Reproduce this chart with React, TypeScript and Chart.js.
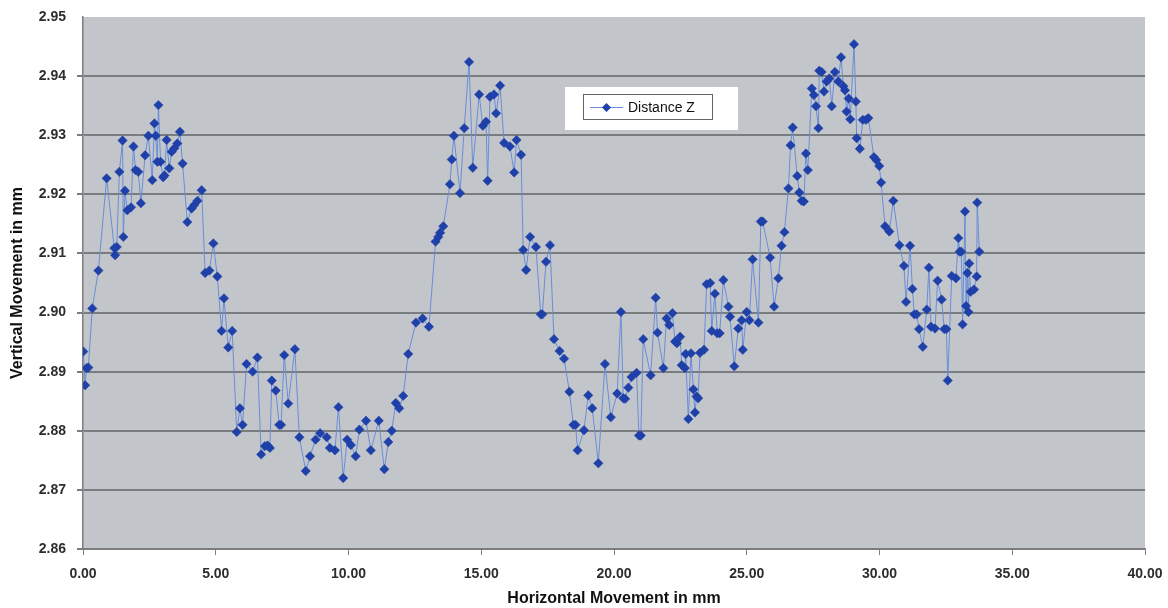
import React, { useEffect, useRef } from "react";
import { Chart, registerables } from "chart.js";

Chart.register(...registerables);

const seriesName = "Distance Z";
const xTitle = "Horizontal Movement in mm";
const yTitle = "Vertical Movement in mm";

const xValues = [
  0.01, 0.08, 0.13, 0.2, 0.35, 0.58, 0.89, 1.18, 1.21, 1.27, 1.37, 1.49, 1.52, 1.58, 1.67, 1.81, 1.9, 1.98,
  2.08, 2.18, 2.34, 2.46, 2.61, 2.69, 2.74, 2.8, 2.84, 2.92, 3.02, 3.07, 3.15, 3.25, 3.34, 3.44, 3.55, 3.65,
  3.75, 3.93, 4.09, 4.19, 4.31, 4.47, 4.6, 4.76, 4.91, 5.06, 5.22, 5.31, 5.47, 5.62, 5.79, 5.91, 6.01, 6.16,
  6.39, 6.57, 6.71, 6.85, 6.95, 7.04, 7.11, 7.26, 7.39, 7.46, 7.58, 7.73, 7.98, 8.15, 8.39, 8.55, 8.76, 8.93,
  9.18, 9.3, 9.49, 9.62, 9.8, 9.95, 10.09, 10.27, 10.41, 10.66, 10.84, 11.14, 11.35, 11.5, 11.63, 11.78,
  11.91, 12.06, 12.25, 12.54, 12.79, 13.03, 13.28, 13.38, 13.45, 13.57, 13.82, 13.89, 13.97, 14.2, 14.36,
  14.54, 14.68, 14.92, 15.06, 15.18, 15.24, 15.33, 15.48, 15.56, 15.71, 15.86, 16.08, 16.24, 16.33, 16.5,
  16.58, 16.69, 16.84, 17.06, 17.24, 17.3, 17.44, 17.59, 17.74, 17.95, 18.12, 18.32, 18.47, 18.55, 18.63,
  18.87, 19.03, 19.18, 19.41, 19.66, 19.88, 20.12, 20.26, 20.35, 20.42, 20.54, 20.66, 20.85, 20.94, 21.01,
  21.1, 21.38, 21.57, 21.64, 21.86, 21.98, 22.08, 22.2, 22.3, 22.37, 22.49, 22.55, 22.67, 22.7, 22.8, 22.9,
  22.99, 23.05, 23.11, 23.17, 23.24, 23.39, 23.49, 23.62, 23.68, 23.8, 23.89, 23.98, 24.12, 24.31, 24.37,
  24.53, 24.68, 24.81, 24.85, 25.0, 25.1, 25.22, 25.44, 25.53, 25.6, 25.88, 26.03, 26.19, 26.31, 26.42,
  26.57, 26.65, 26.73, 26.9, 26.98, 27.07, 27.15, 27.23, 27.3, 27.45, 27.53, 27.61, 27.7, 27.73, 27.82,
  27.91, 28.01, 28.11, 28.2, 28.32, 28.45, 28.55, 28.64, 28.7, 28.76, 28.84, 28.9, 29.04, 29.11, 29.14,
  29.26, 29.37, 29.49, 29.58, 29.79, 29.88, 29.99, 30.06, 30.21, 30.37, 30.52, 30.75, 30.92, 31.0, 31.15,
  31.24, 31.31, 31.4, 31.49, 31.63, 31.78, 31.86, 31.94, 32.09, 32.19, 32.34, 32.44, 32.52, 32.57, 32.72,
  32.88, 32.97, 33.02, 33.08, 33.13, 33.22, 33.26, 33.31, 33.35, 33.38, 33.43, 33.56, 33.66, 33.68, 33.76,
];

const yValues = [
  2.8934, 2.8877, 2.8906, 2.8907, 2.9007, 2.9071, 2.9227, 2.9109, 2.9097, 2.9111, 2.9238, 2.9291, 2.9128,
  2.9206, 2.9173, 2.9178, 2.9281, 2.9241, 2.9238, 2.9185, 2.9266, 2.9299, 2.9224, 2.932, 2.9299, 2.9255,
  2.9351, 2.9255, 2.9229, 2.9232, 2.9292, 2.9244, 2.9272, 2.9278, 2.9286, 2.9306, 2.9252, 2.9153, 2.9176,
  2.9182, 2.9189, 2.9207, 2.9067, 2.9071, 2.9117, 2.9061, 2.8969, 2.9024, 2.8941, 2.8969, 2.8798, 2.8838,
  2.881, 2.8913, 2.89, 2.8924, 2.876, 2.8774, 2.8775, 2.8771, 2.8885, 2.8868, 2.881, 2.881, 2.8928, 2.8846,
  2.8938, 2.8789, 2.8732, 2.8757, 2.8785, 2.8796, 2.8789, 2.8771, 2.8767, 2.884, 2.872, 2.8785, 2.8776,
  2.8757, 2.8802, 2.8817, 2.8767, 2.8817, 2.8735, 2.8781, 2.88, 2.8847, 2.8838, 2.8859, 2.893, 2.8983,
  2.899, 2.8976, 2.912, 2.9128, 2.9135, 2.9146, 2.9217, 2.9259, 2.9299, 2.9202, 2.9312, 2.9424, 2.9245,
  2.9369, 2.9316, 2.9323, 2.9223, 2.9365, 2.9369, 2.9337, 2.9384, 2.9287, 2.9281, 2.9237, 2.9292, 2.9267,
  2.9106, 2.9072, 2.9128, 2.9111, 2.8997, 2.8997, 2.9086, 2.9114, 2.8955, 2.8935, 2.8922, 2.8866, 2.881,
  2.881, 2.8767, 2.8801, 2.886, 2.8838, 2.8745, 2.8913, 2.8823, 2.8863, 2.9001, 2.8855, 2.8854, 2.8873,
  2.8891, 2.8898, 2.8792, 2.8792, 2.8955, 2.8894, 2.9025, 2.8966, 2.8906, 2.899, 2.8979, 2.8999, 2.8951,
  2.8948, 2.8959, 2.8911, 2.8906, 2.893, 2.882, 2.8931, 2.887, 2.8831, 2.8858, 2.8855, 2.8932, 2.8937,
  2.9048, 2.905, 2.8969, 2.9032, 2.8965, 2.8965, 2.9055, 2.901, 2.8993, 2.8909, 2.8973, 2.8987, 2.8937,
  2.9001, 2.8987, 2.909, 2.8983, 2.9154, 2.9154, 2.9093, 2.901, 2.9058, 2.9113, 2.9136, 2.921, 2.9283,
  2.9313, 2.9231, 2.9203, 2.9189, 2.9188, 2.9269, 2.9241, 2.9379, 2.9368, 2.9349, 2.9312, 2.9409, 2.9407,
  2.9374, 2.9391, 2.9396, 2.9349, 2.9407, 2.9391, 2.9432, 2.9383, 2.9376, 2.934, 2.9362, 2.9327, 2.9454,
  2.9357, 2.9295, 2.9277, 2.9326, 2.9326, 2.9329, 2.9263, 2.9258, 2.9248, 2.922, 2.9146, 2.9137, 2.9189,
  2.9114, 2.9079, 2.9018, 2.9113, 2.904, 2.8997, 2.8997, 2.8972, 2.8942, 2.9005, 2.9076, 2.8976, 2.8973,
  2.9054, 2.9022, 2.8972, 2.8972, 2.8885, 2.9062, 2.9058, 2.9126, 2.9103, 2.9103, 2.898, 2.9171, 2.9011,
  2.9067, 2.9001, 2.9083, 2.9035, 2.9039, 2.9061, 2.9186, 2.9103,
];

const X_MIN = 0;
const X_MAX = 40;
const X_STEP = 5;
const Y_MIN = 2.86;
const Y_MAX = 2.95;
const Y_STEP = 0.01;

const FONT = "'Liberation Sans', Arial, Helvetica, sans-serif";
const PLOT_BG = "rgb(194,198,202)";
const GRID = "rgb(122,125,128)";
const AXIS = "rgb(125,125,125)";
const LINE = "rgb(104,142,218)";
const MARK = "rgb(30,64,168)";
const TEXT = "rgb(45,45,45)";

const bgPlugin = {
  id: "plotBg",
  beforeDraw(chart: any) {
    const { ctx, chartArea } = chart;
    ctx.save();
    ctx.fillStyle = PLOT_BG;
    ctx.fillRect(chartArea.left, chartArea.top, chartArea.right - chartArea.left, chartArea.bottom - chartArea.top);
    ctx.restore();
  },
};

const legendPlugin = {
  id: "boxLegend",
  afterDraw(chart: any) {
    const ctx = chart.ctx;
    ctx.save();
    ctx.fillStyle = "#ffffff";
    ctx.fillRect(565, 87, 173, 43);
    ctx.strokeStyle = "rgb(100,100,100)";
    ctx.lineWidth = 1;
    ctx.strokeRect(583.5, 94.5, 129, 25);
    ctx.strokeStyle = LINE;
    ctx.beginPath();
    ctx.moveTo(590, 107.5);
    ctx.lineTo(623, 107.5);
    ctx.stroke();
    ctx.fillStyle = MARK;
    ctx.beginPath();
    ctx.moveTo(606.5, 103);
    ctx.lineTo(611, 107.5);
    ctx.lineTo(606.5, 112);
    ctx.lineTo(602, 107.5);
    ctx.closePath();
    ctx.fill();
    ctx.fillStyle = "#111";
    ctx.font = `14px ${FONT}`;
    ctx.textBaseline = "middle";
    ctx.textAlign = "left";
    ctx.fillText(seriesName, 628, 108);
    ctx.restore();
  },
};

export default function App() {
  const ref = useRef<HTMLCanvasElement>(null);
  useEffect(() => {
    document.body.style.margin = "0";
    const points = xValues.map((x, i) => ({ x, y: yValues[i] }));
    const chart = new Chart(ref.current!, {
      type: "scatter",
      data: {
        datasets: [
          {
            label: seriesName,
            data: points,
            showLine: true,
            borderColor: LINE,
            borderWidth: 1,
            pointStyle: "rectRot",
            pointRadius: 4.7,
            pointBackgroundColor: MARK,
            pointBorderColor: MARK,
            pointBorderWidth: 0.5,
          },
        ],
      },
      options: {
        responsive: false,
        animation: false,
        layout: { padding: { top: 17, right: 23, bottom: 0, left: 0 } },
        plugins: { legend: { display: false }, tooltip: { enabled: false } },
        scales: {
          x: {
            type: "linear",
            min: X_MIN,
            max: X_MAX,
            ticks: {
              stepSize: X_STEP,
              callback: (v: any) => Number(v).toFixed(2),
              font: { family: FONT, size: 14, weight: "bold" },
              color: TEXT,
              padding: 11,
              maxRotation: 0,
            },
            grid: { drawOnChartArea: false, tickLength: 6, color: AXIS },
            border: { color: AXIS, width: 1.5 },
            title: {
              display: true,
              text: xTitle,
              font: { family: FONT, size: 16, weight: "bold" },
              color: "#111",
              padding: 0,
            },
            afterFit: (s: any) => {
              s.height = 59;
              s.paddingLeft = 0;
              s.paddingRight = 0;
            },
          },
          y: {
            type: "linear",
            min: Y_MIN,
            max: Y_MAX,
            ticks: {
              stepSize: Y_STEP,
              callback: (v: any) => Number(v).toFixed(2),
              font: { family: FONT, size: 14, weight: "bold" },
              color: TEXT,
              padding: 11,
            },
            grid: {
              color: (c: any) => (c.tick && Math.abs(c.tick.value - Y_MAX) < 1e-9 ? "rgba(0,0,0,0)" : GRID),
              lineWidth: 2,
              tickLength: 6,
            },
            border: { color: AXIS, width: 1.5 },
            title: {
              display: true,
              text: yTitle,
              font: { family: FONT, size: 16, weight: "bold" },
              color: "#111",
              padding: { top: 8, bottom: 0 },
            },
            afterFit: (s: any) => {
              s.width = 83;
              s.paddingTop = 0;
              s.paddingBottom = 0;
            },
          },
        },
      },
      plugins: [bgPlugin, legendPlugin],
    } as any);
    return () => chart.destroy();
  }, []);
  return (
    <div style={{ position: "absolute", left: 0, top: 0, width: 1168, height: 608, background: "#fff" }}>
      <canvas ref={ref} width={1168} height={608} style={{ width: 1168, height: 608, display: "block" }} />
    </div>
  );
}
